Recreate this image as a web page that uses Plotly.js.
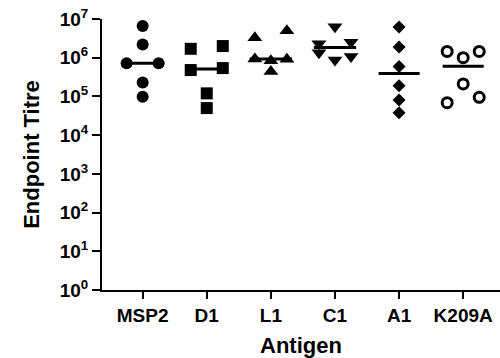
<!DOCTYPE html>
<html>
<head>
<meta charset="utf-8">
<script src="https://cdn.plot.ly/plotly-3.0.1.min.js"></script>
<style>html,body{margin:0;padding:0;background:#fff;}#chart{width:500px;height:358px;}</style>
</head>
<body>
<div id="chart"></div>
<script>
// Categories (antigens)
const antigens = ['MSP2', 'D1', 'L1', 'C1', 'A1', 'K209A'];

// Endpoint titres per antigen
const msp2 = [6.6e6, 2.2e6, 7.2e5, 7.2e5, 2.3e5, 9.8e4];
const d1   = [1.7e6, 2.0e6, 4.8e5, 5.4e5, 1.2e5, 5.0e4];
const l1   = [3.3e6, 5.0e6, 9.3e5, 8.3e5, 9.1e5, 4.4e5];
const c1   = [6.3e6, 2.3e6, 2.5e6, 1.35e6, 8.7e5, 1.07e6];
const a1   = [6.2e6, 1.9e6, 5.9e5, 1.9e5, 8.1e4, 3.8e4];
const k209a = [1.45e6, 1.0e6, 1.45e6, 2.1e5, 6.9e4, 9.5e4];

// Y tick labels
const yTickVals = [1, 10, 100, 1e3, 1e4, 1e5, 1e6, 1e7];
const yTickText = ['10<sup>0</sup>','10<sup>1</sup>','10<sup>2</sup>','10<sup>3</sup>','10<sup>4</sup>','10<sup>5</sup>','10<sup>6</sup>','10<sup>7</sup>'];

// Layout of the scatter columns (horizontal spreading of points, styles)
const groups = [
  {vals: msp2,  spread: [0, 0, -1, 1, 0, 0],  symbol: 'circle',        size: 12, half: 0.25},
  {vals: d1,    spread: [-1, 1, -1, 1, 0, 0], symbol: 'square',        size: 12, half: 0.25},
  {vals: l1,    spread: [-1, 1, -1, 0, 1, 0], symbol: 'triangle-up',   size: 13, half: 0.33},
  {vals: c1,    spread: [0, -1, 1, -1, 0, 1], symbol: 'triangle-down', size: 13, half: 0.33},
  {vals: a1,    spread: [0, 0, 0, 0, 0, 0],   symbol: 'diamond',       size: 10, half: 0.32},
  {vals: k209a, spread: [-1, 0, 1, 0, -1, 1], symbol: 'circle-open',   size: 10, half: 0.32}
];
const step = 0.25;

function median(arr) {
  const s = arr.slice().sort((a, b) => a - b);
  const n = s.length;
  return n % 2 ? s[(n - 1) / 2] : (s[n / 2 - 1] + s[n / 2]) / 2;
}

const traces = [];
groups.forEach((g, i) => {
  const m = median(g.vals);
  traces.push({
    type: 'scatter', mode: 'lines',
    x: [i - g.half, i + g.half], y: [m, m],
    line: {color: '#000', width: 3},
    hoverinfo: 'skip', showlegend: false
  });
  traces.push({
    type: 'scatter', mode: 'markers',
    x: g.vals.map((v, k) => i + g.spread[k] * step),
    y: g.vals,
    marker: {
      symbol: g.symbol, size: g.size, color: '#000',
      line: {color: '#000', width: g.symbol === 'circle-open' ? 3 : 0}
    },
    showlegend: false
  });
});

const font = {family: 'Liberation Sans, Arial, sans-serif', color: '#000', weight: 'bold'};

const layout = {
  width: 500, height: 358,
  margin: {l: 102, r: 0, t: 19, b: 68},
  paper_bgcolor: '#fff', plot_bgcolor: '#fff',
  showlegend: false,
  xaxis: {
    range: [-0.634, 5.574],
    tickmode: 'array', tickvals: antigens.map((_, i) => i), ticktext: antigens,
    ticks: 'outside', ticklen: 7, tickwidth: 2, tickcolor: '#000',
    showline: true, linecolor: '#000', linewidth: 2,
    showgrid: false, zeroline: false,
    tickfont: Object.assign({size: 19}, font),
    title: {text: 'Antigen', font: Object.assign({size: 22}, font), standoff: 14},
    automargin: false
  },
  yaxis: {
    type: 'log', range: [0, 7],
    tickmode: 'array', tickvals: yTickVals, ticktext: yTickText,
    ticks: 'outside', ticklen: 8, tickwidth: 2, tickcolor: '#000',
    showline: true, linecolor: '#000', linewidth: 2,
    showgrid: false, zeroline: false,
    tickfont: Object.assign({size: 19}, font),
    title: {text: 'Endpoint Titre', font: Object.assign({size: 22}, font), standoff: 14},
    automargin: false
  }
};

Plotly.newPlot('chart', traces, layout, {displayModeBar: false, staticPlot: true});
</script>
</body>
</html>
